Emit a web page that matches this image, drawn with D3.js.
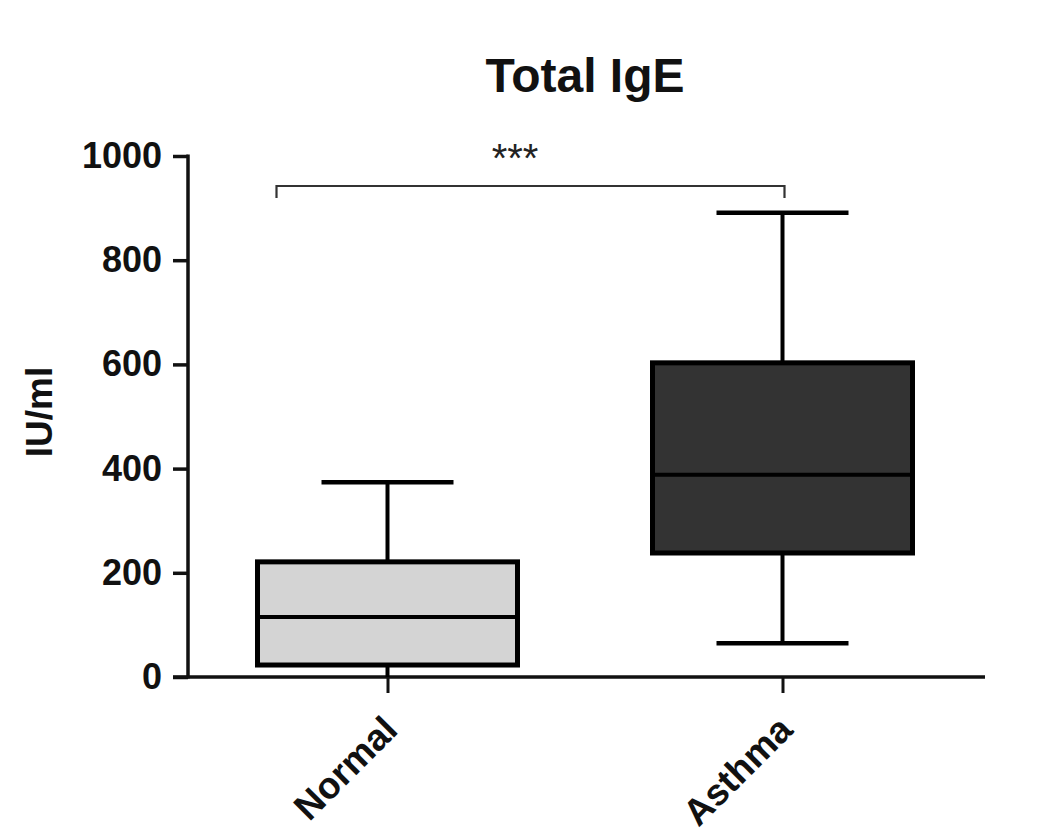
<!DOCTYPE html>
<html><head><meta charset="utf-8">
<script src="https://cdn.jsdelivr.net/npm/d3@7"></script>
<style>
html,body{margin:0;padding:0;background:#fff;}
text{font-family:"Liberation Sans",Arial,Helvetica,sans-serif;}
</style></head>
<body>
<svg id="chart" width="1053" height="834"></svg>
<script>
// Data
const categories = ["Normal", "Asthma"];
const whiskerMin = [0, 65];
const q1 = [23, 238];
const median = [115, 388];
const q3 = [221, 603];
const whiskerMax = [374, 891];
const boxFills = ["#d4d4d4", "#333333"];
const yTicks = [0, 200, 400, 600, 800, 1000];
const chartTitle = "Total IgE";
const yLabel = "IU/ml";
const sigLabel = "***";

const svg = d3.select("#chart");
svg.append("rect").attr("width",1053).attr("height",834).attr("fill","#fff");

const y = d3.scaleLinear().domain([0, 1000]).range([677, 156]);
const x = d3.scalePoint().domain(categories).range([190, 980]).padding(0.5);
const boxW = 260, capW = 132;
const axisX = 188, axisY = 677;

// Title
svg.append("text").attr("x", 585).attr("y", 92).attr("text-anchor","middle")
  .attr("font-size", 48).attr("font-weight","bold").attr("fill","#111").text(chartTitle);

// Y label
svg.append("text").attr("transform", `translate(52,412) rotate(-90)`).attr("text-anchor","middle")
  .attr("font-size", 37).attr("font-weight","bold").attr("fill","#111").text(yLabel);

// Y axis
const yAxis = d3.axisLeft(y).tickValues(yTicks).tickSize(15).tickPadding(11).tickSizeOuter(0).tickFormat(d3.format("d"));
const gy = svg.append("g").attr("transform", `translate(${axisX},0)`).call(yAxis);
gy.select(".domain").remove();
gy.selectAll(".tick line").attr("stroke","#111").attr("stroke-width",3.5);
gy.selectAll(".tick text").attr("font-size",36).attr("font-weight","bold").attr("fill","#111")
  .attr("font-family","'Liberation Sans',Arial,sans-serif");
svg.append("line").attr("x1",axisX).attr("x2",axisX).attr("y1",y(1000)-1.5).attr("y2",axisY+1.5)
  .attr("stroke","#111").attr("stroke-width",3.5);

// X axis
const xAxis = d3.axisBottom(x).tickSize(16).tickFormat("");
const gx = svg.append("g").attr("transform", `translate(0,${axisY})`).call(xAxis);
gx.select(".domain").remove();
gx.selectAll(".tick line").attr("stroke","#111").attr("stroke-width",3);
svg.append("line").attr("x1",173).attr("x2",985).attr("y1",axisY).attr("y2",axisY)
  .attr("stroke","#111").attr("stroke-width",3.5);

// X labels rotated
svg.selectAll("text.xlab").data(categories).enter().append("text").attr("class","xlab")
  .attr("transform", d => `translate(${x(d)+12},732) rotate(-45)`)
  .attr("text-anchor","end").attr("font-size",37).attr("font-weight","bold").attr("fill","#111")
  .text(d => d);

// Boxes
const idx = d3.range(categories.length);
const g = svg.append("g");
idx.forEach(i => {
  const cx = x(categories[i]);
  g.append("line").attr("x1",cx).attr("x2",cx).attr("y1",y(q3[i])).attr("y2",y(whiskerMax[i]))
    .attr("stroke","#000").attr("stroke-width",4);
  g.append("line").attr("x1",cx).attr("x2",cx).attr("y1",y(q1[i])).attr("y2",y(whiskerMin[i]))
    .attr("stroke","#000").attr("stroke-width",4);
  g.append("line").attr("x1",cx-capW/2).attr("x2",cx+capW/2).attr("y1",y(whiskerMax[i])).attr("y2",y(whiskerMax[i]))
    .attr("stroke","#000").attr("stroke-width",4.5);
  if (whiskerMin[i] > 0) {
    g.append("line").attr("x1",cx-capW/2).attr("x2",cx+capW/2).attr("y1",y(whiskerMin[i])).attr("y2",y(whiskerMin[i]))
      .attr("stroke","#000").attr("stroke-width",4.5);
  }
  g.append("rect").attr("x",cx-boxW/2).attr("width",boxW).attr("y",y(q3[i])).attr("height",y(q1[i])-y(q3[i]))
    .attr("fill",boxFills[i]).attr("stroke","#000").attr("stroke-width",5);
  g.append("line").attr("x1",cx-boxW/2).attr("x2",cx+boxW/2).attr("y1",y(median[i])).attr("y2",y(median[i]))
    .attr("stroke","#000").attr("stroke-width",4);
});

// Significance bracket
const bx1 = x(categories[0]) - 111, bx2 = x(categories[1]) + 2;
svg.append("path").attr("d", `M${bx1},198 L${bx1},186 L${bx2},186 L${bx2},198`)
  .attr("fill","none").attr("stroke","#333").attr("stroke-width",2.2);
svg.append("text").attr("x",515).attr("y",172).attr("text-anchor","middle")
  .attr("font-size",40).attr("fill","#222").text(sigLabel);
</script>
</body></html>
